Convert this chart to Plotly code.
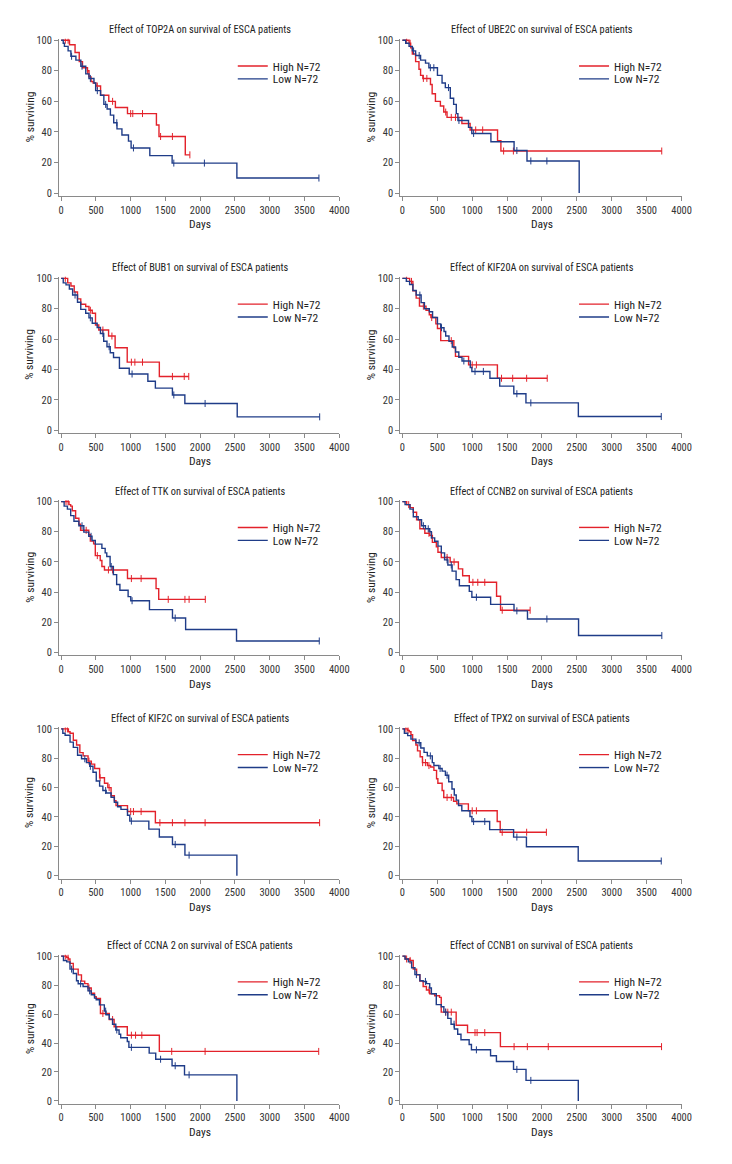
import plotly.graph_objects as go

FONT = "Liberation Sans Narrow, Arial Narrow, Roboto Condensed, DejaVu Sans Condensed, sans-serif"
RED = "#e3222b"
BLUE = "#1f3c88"

genes = ["TOP2A", "UBE2C", "BUB1", "KIF20A", "TTK", "CCNB2", "KIF2C", "TPX2", "CCNA 2", "CCNB1"]
group_labels = ["High N=72", "Low N=72"]
x_ticks = [0, 500, 1000, 1500, 2000, 2500, 3000, 3500, 4000]
y_ticks = [0, 20, 40, 60, 80, 100]

# ---------------- TOP2A ----------------
TOP2A_high_days = [120, 200, 260, 307, 378, 400, 430, 460, 500, 567, 685, 780, 954, 1370, 1407, 1785]
TOP2A_high_surv = [97, 92, 86, 82, 80, 76, 73, 72, 70, 64, 60, 56, 52, 44.5, 37, 25]
TOP2A_high_end = 1851
TOP2A_high_cens = [60, 100, 380, 520, 740, 1000, 1030, 1170, 1430, 1600, 1851]
TOP2A_low_days = [30, 47, 100, 140, 212, 283, 354, 400, 472, 496, 567, 614, 661, 708, 756, 803, 874, 968, 1006, 1275, 1596, 2527]
TOP2A_low_surv = [98, 96, 93, 89.5, 87, 83, 78, 75, 72, 67, 64, 58, 55, 51, 46, 42, 38, 34, 29.5, 24.5, 19.6, 9.8]
TOP2A_low_end = 3707
TOP2A_low_cens = [150, 300, 420, 520, 640, 800, 1040, 1620, 2060, 3707]

# ---------------- UBE2C ----------------
UBE2C_high_days = [95, 118, 142, 189, 237, 260, 293, 402, 426, 473, 544, 592, 639, 852, 970, 1363, 1411]
UBE2C_high_surv = [98, 95, 91, 86, 81, 77, 75, 71, 65, 60, 57, 53, 49.5, 45.5, 41.3, 34.3, 27.5]
UBE2C_high_end = 3716
UBE2C_high_cens = [60, 110, 300, 350, 620, 700, 760, 1050, 1150, 1450, 1590, 3716]
UBE2C_low_days = [47, 95, 142, 189, 260, 331, 379, 502, 568, 615, 686, 734, 772, 795, 947, 994, 1268, 1600, 1785, 2533]
UBE2C_low_surv = [98, 96, 93, 90, 87, 85, 82, 77, 72, 69, 62, 58, 52, 47.5, 43, 39, 33.6, 27.8, 21, 0]
UBE2C_low_end = 2533
UBE2C_low_cens = [160, 240, 400, 450, 660, 810, 1020, 1640, 1840, 2070]

# ---------------- BUB1 ----------------
BUB1_high_days = [94, 141, 188, 235, 282, 353, 400, 447, 494, 541, 682, 776, 950, 1412]
BUB1_high_surv = [97, 95, 91, 86.5, 83, 81.5, 79, 77, 69.3, 66, 62, 54.3, 44.8, 35.4]
BUB1_high_end = 1835
BUB1_high_cens = [60, 420, 600, 730, 1010, 1060, 1170, 1600, 1770, 1835]
BUB1_low_days = [30, 70, 118, 165, 235, 282, 353, 400, 447, 518, 565, 612, 659, 706, 753, 838, 979, 1247, 1355, 1600, 1779, 2532]
BUB1_low_surv = [97, 95.7, 93, 89, 84.3, 79.6, 77, 74, 70.4, 67.6, 63.7, 58.6, 55, 51, 47.9, 40.8, 37, 32.2, 27.7, 23.2, 17.6, 8.8]
BUB1_low_end = 3718
BUB1_low_cens = [200, 420, 600, 690, 1020, 1620, 2070, 3718]

# ---------------- KIF20A ----------------
KIF20A_high_days = [103, 150, 197, 244, 338, 385, 408, 479, 502, 549, 737, 760, 948, 1361]
KIF20A_high_surv = [98, 91.8, 87, 81.7, 79, 76, 74.2, 70, 67, 59, 54.2, 48.6, 43, 34.2]
KIF20A_high_end = 2075
KIF20A_high_cens = [60, 130, 300, 420, 700, 1000, 1060, 1420, 1580, 1780, 2075]
KIF20A_low_days = [56, 103, 150, 197, 268, 315, 385, 432, 502, 549, 596, 620, 667, 714, 761, 808, 854, 972, 995, 1254, 1394, 1596, 1770, 2521]
KIF20A_low_surv = [98, 96, 92, 89, 84, 80, 78, 74.2, 70, 67.5, 65, 62, 58.5, 54.8, 51.5, 48, 45.6, 41.3, 38.7, 34.2, 29, 24, 18, 9]
KIF20A_low_end = 3709
KIF20A_low_cens = [250, 560, 880, 1040, 1160, 1640, 1840, 3709]

# ---------------- TTK ----------------
TTK_high_days = [113, 137, 160, 208, 255, 279, 397, 420, 467, 491, 562, 586, 623, 954, 1365, 1403]
TTK_high_surv = [98, 97, 94, 89, 85, 81, 78, 73.8, 72, 64.2, 61, 57, 54.7, 49, 42.3, 35.2]
TTK_high_end = 2073
TTK_high_cens = [70, 100, 360, 520, 680, 740, 1010, 1150, 1540, 1780, 1840, 2073]
TTK_low_days = [43, 90, 137, 184, 255, 326, 397, 444, 491, 586, 633, 656, 704, 751, 798, 845, 963, 1001, 1270, 1601, 1790, 2522]
TTK_low_surv = [97, 95, 90.7, 87, 84, 79.8, 77, 74.2, 71.8, 69, 66, 63.6, 57, 51.6, 45.1, 41.2, 37, 34.3, 28.4, 22.8, 15.2, 7.6]
TTK_low_end = 3712
TTK_low_cens = [300, 430, 720, 1020, 1640, 3712]

# ---------------- CCNB2 ----------------
CCNB2_high_days = [61, 108, 156, 203, 250, 321, 392, 429, 486, 509, 557, 684, 802, 863, 958, 1349, 1406]
CCNB2_high_surv = [98, 96, 93, 88, 82, 79, 77.6, 73, 70, 66.4, 63, 60, 55.4, 50.9, 46.5, 37.3, 28]
CCNB2_high_end = 1830
CCNB2_high_cens = [90, 380, 420, 640, 740, 1010, 1080, 1180, 1430, 1830]
CCNB2_low_days = [38, 108, 156, 226, 274, 330, 392, 415, 462, 509, 557, 604, 651, 712, 769, 816, 958, 995, 1264, 1599, 1792, 2524]
CCNB2_low_surv = [98, 95, 90, 88, 84, 82, 80, 76, 73.7, 70.5, 66, 61.4, 58, 53.9, 48.3, 44.2, 40.5, 36.6, 31.9, 27.6, 22.2, 11.2]
CCNB2_low_end = 3717
CCNB2_low_cens = [300, 370, 640, 700, 1060, 1640, 2070, 3717]

# ---------------- KIF2C ----------------
KIF2C_high_days = [104, 128, 175, 222, 269, 316, 387, 434, 482, 553, 623, 671, 718, 765, 789, 954, 1355]
KIF2C_high_surv = [98, 97, 92.2, 89, 83.8, 81.6, 78, 76, 73, 66.7, 63, 60, 54.5, 51, 47.7, 43.7, 36.1]
KIF2C_high_end = 3717
KIF2C_high_cens = [60, 90, 400, 560, 690, 1000, 1040, 1150, 1420, 1600, 1780, 2070, 3717]
KIF2C_low_days = [24, 57, 128, 175, 236, 293, 364, 411, 458, 505, 553, 600, 647, 718, 765, 812, 860, 954, 987, 1261, 1412, 1601, 1780, 2527]
KIF2C_low_surv = [97, 95.6, 91, 87.4, 82, 79.6, 77, 74.5, 70.5, 64.5, 61, 58, 56.3, 53.4, 50, 47, 45.2, 41.2, 37.2, 31.7, 26.4, 21.3, 14, 0]
KIF2C_low_end = 2527
KIF2C_low_cens = [340, 420, 640, 1010, 1640, 1840]

# ---------------- TPX2 ----------------
TPX2_high_days = [75, 99, 122, 146, 193, 216, 254, 287, 357, 404, 451, 489, 508, 569, 592, 733, 780, 945, 1358, 1401]
TPX2_high_surv = [99, 98, 96, 92, 89, 85, 81, 77, 75, 74, 71.7, 66, 63, 58, 53.3, 50.7, 48.9, 44.2, 36.9, 29.6]
TPX2_high_end = 2063
TPX2_high_cens = [50, 80, 290, 330, 380, 640, 700, 1000, 1060, 1430, 1780, 2063]
TPX2_low_days = [28, 75, 122, 193, 263, 310, 357, 428, 451, 522, 569, 616, 663, 710, 743, 771, 804, 851, 968, 996, 1250, 1593, 1777, 2519]
TPX2_low_surv = [97, 95.4, 93, 90.5, 87, 84, 81.6, 77, 75, 73, 71.2, 68.4, 64, 59, 55, 51.5, 47.8, 44.2, 40.3, 36.9, 31.4, 26.3, 19.7, 10]
TPX2_low_end = 3709
TPX2_low_cens = [240, 400, 540, 640, 1020, 1180, 1640, 3709]

# ---------------- CCNA 2 ----------------
CCNA2_high_days = [80, 104, 127, 174, 245, 292, 339, 386, 433, 480, 504, 565, 692, 762, 951, 1412]
CCNA2_high_surv = [99, 98, 95, 91, 87, 82.7, 81, 78, 74.4, 72, 70.8, 60.4, 56.2, 51.2, 45.4, 34.2]
CCNA2_high_end = 3704
CCNA2_high_cens = [60, 100, 400, 600, 740, 1010, 1070, 1160, 1590, 2070, 3704]
CCNA2_low_days = [33, 80, 127, 174, 221, 245, 315, 386, 433, 480, 504, 551, 621, 645, 692, 739, 786, 833, 856, 951, 974, 1266, 1360, 1595, 1774, 2527]
CCNA2_low_surv = [97, 96, 91, 88, 83, 80.9, 79, 76, 73.3, 71, 69.9, 66.3, 62, 59.5, 56.5, 53, 49, 46, 43.6, 41, 37, 33, 28.8, 24.3, 18, 0]
CCNA2_low_end = 2527
CCNA2_low_cens = [150, 280, 410, 640, 800, 1010, 1430, 1640, 1840]

# ---------------- CCNB1 ----------------
CCNB1_high_days = [38, 108, 155, 203, 250, 297, 344, 391, 462, 532, 556, 770, 933, 1404]
CCNB1_high_surv = [98, 97, 91, 87, 82.7, 79, 76.6, 74, 72.6, 71.5, 61.3, 52.3, 47.2, 37.5]
CCNB1_high_end = 3713
CCNB1_high_cens = [60, 110, 380, 620, 650, 700, 1040, 1070, 1180, 1600, 1790, 2090, 3713]
CCNB1_low_days = [38, 85, 132, 179, 250, 297, 344, 391, 415, 485, 556, 594, 650, 697, 744, 792, 839, 956, 989, 1263, 1347, 1592, 1771, 2520]
CCNB1_low_surv = [98, 96, 92, 87.2, 83, 82.5, 81, 78, 74, 66.5, 65, 61.3, 57, 53, 49.7, 46, 42.2, 39, 35.3, 31.2, 27.2, 21.8, 14.2, 0]
CCNB1_low_end = 2520
CCNB1_low_cens = [200, 330, 620, 740, 1060, 1640, 1840]

curves = [
    ((TOP2A_high_days, TOP2A_high_surv, TOP2A_high_end, TOP2A_high_cens), (TOP2A_low_days, TOP2A_low_surv, TOP2A_low_end, TOP2A_low_cens)),
    ((UBE2C_high_days, UBE2C_high_surv, UBE2C_high_end, UBE2C_high_cens), (UBE2C_low_days, UBE2C_low_surv, UBE2C_low_end, UBE2C_low_cens)),
    ((BUB1_high_days, BUB1_high_surv, BUB1_high_end, BUB1_high_cens), (BUB1_low_days, BUB1_low_surv, BUB1_low_end, BUB1_low_cens)),
    ((KIF20A_high_days, KIF20A_high_surv, KIF20A_high_end, KIF20A_high_cens), (KIF20A_low_days, KIF20A_low_surv, KIF20A_low_end, KIF20A_low_cens)),
    ((TTK_high_days, TTK_high_surv, TTK_high_end, TTK_high_cens), (TTK_low_days, TTK_low_surv, TTK_low_end, TTK_low_cens)),
    ((CCNB2_high_days, CCNB2_high_surv, CCNB2_high_end, CCNB2_high_cens), (CCNB2_low_days, CCNB2_low_surv, CCNB2_low_end, CCNB2_low_cens)),
    ((KIF2C_high_days, KIF2C_high_surv, KIF2C_high_end, KIF2C_high_cens), (KIF2C_low_days, KIF2C_low_surv, KIF2C_low_end, KIF2C_low_cens)),
    ((TPX2_high_days, TPX2_high_surv, TPX2_high_end, TPX2_high_cens), (TPX2_low_days, TPX2_low_surv, TPX2_low_end, TPX2_low_cens)),
    ((CCNA2_high_days, CCNA2_high_surv, CCNA2_high_end, CCNA2_high_cens), (CCNA2_low_days, CCNA2_low_surv, CCNA2_low_end, CCNA2_low_cens)),
    ((CCNB1_high_days, CCNB1_high_surv, CCNB1_high_end, CCNB1_high_cens), (CCNB1_low_days, CCNB1_low_surv, CCNB1_low_end, CCNB1_low_cens)),
]


def surv_at(days, surv, t):
    s = 100
    for d, v in zip(days, surv):
        if d <= t:
            s = v
    return s


W, H = 732, 1164
# pixel position of day 0 and day 4000 per column
col_px = [(62, 344), (408, 691)]
# pixel position of 100 % and 0 % per row
row_px = [(35.5, 189.5), (275.5, 428.5), (500.5, 652.5), (729.5, 877.5), (958.5, 1104.5)]
X_LO, X_HI = -30, 4000
Y_LO, Y_HI = -2, 101

fig = go.Figure()
layout = dict(
    width=W, height=H, autosize=False,
    margin=dict(l=0, r=0, t=0, b=0),
    paper_bgcolor="white", plot_bgcolor="white",
    font=dict(family=FONT, color="#222"),
    showlegend=True,
)
annotations = []
leg_n = 0

for i, gene in enumerate(genes):
    k = i + 1
    r, c = divmod(i, 2)
    x0p, x4p = col_px[c]
    tp, zp = row_px[r]
    ppd = (x4p - x0p) / 4000.0
    left_px = x0p + X_LO * ppd
    right_px = x0p + X_HI * ppd
    ppu = (zp - tp) / 100.0
    top_px = zp - Y_HI * ppu
    bot_px = zp - Y_LO * ppu
    xd = [left_px / W, right_px / W]
    yd = [1 - bot_px / H, 1 - top_px / H]
    sfx = "" if k == 1 else str(k)
    axis_style = dict(showgrid=False, zeroline=False, showline=True, linecolor="#8a8a8a", linewidth=1,
                      ticks="outside", ticklen=4, tickcolor="#8a8a8a", tickwidth=1,
                      tickfont=dict(family=FONT, size=10.5, color="#333"))
    layout["xaxis" + sfx] = dict(domain=xd, anchor="y" + sfx, range=[X_LO, X_HI], tickvals=x_ticks, **axis_style)
    layout["yaxis" + sfx] = dict(domain=yd, anchor="x" + sfx, range=[Y_LO, Y_HI], tickvals=y_ticks, **axis_style)
    for j, ((days, surv, end, cens), color, label) in enumerate(zip(curves[i], [RED, BLUE], group_labels)):
        leg_n += 1
        lsfx = "" if leg_n == 1 else str(leg_n)
        layout["legend" + lsfx] = dict(
            x=(x0p + 174) / W, y=1 - (tp + 26 + 13 * j) / H, xanchor="left", yanchor="middle",
            bgcolor="rgba(0,0,0,0)", font=dict(family=FONT, size=11.5, color="#222"),
            itemwidth=30,
        )
        fig.add_trace(go.Scatter(
            x=[0] + days + [end], y=[100] + surv + [surv[-1]],
            mode="lines", line=dict(color=color, width=1.4, shape="hv"),
            name=label, legend="legend" + lsfx, xaxis="x" + sfx, yaxis="y" + sfx,
            showlegend=True, hoverinfo="skip",
        ))
        fig.add_trace(go.Scatter(
            x=cens, y=[surv_at(days, surv, t) for t in cens],
            mode="markers", marker=dict(symbol="line-ns", size=5, line=dict(color=color, width=1)),
            xaxis="x" + sfx, yaxis="y" + sfx, showlegend=False, hoverinfo="skip",
        ))
    cx = (x0p + x4p) / 2 / W
    annotations.append(dict(text=f"Effect of {gene} on survival of ESCA patients", x=cx, y=1 - (tp - 10.5) / H,
                            xref="paper", yref="paper", showarrow=False, xanchor="center", yanchor="middle",
                            font=dict(family=FONT, size=10.3, color="#222")))
    annotations.append(dict(text="Days", x=cx, y=1 - (zp + 31.5) / H, xref="paper", yref="paper",
                            showarrow=False, xanchor="center", yanchor="middle",
                            font=dict(family=FONT, size=11.5, color="#222")))
    annotations.append(dict(text="% surviving", x=(x0p - 32) / W, y=1 - ((tp + zp) / 2) / H, xref="paper", yref="paper",
                            showarrow=False, xanchor="center", yanchor="middle", textangle=-90,
                            font=dict(family=FONT, size=11.5, color="#222")))

layout["annotations"] = annotations
fig.update_layout(**layout)
fig.write_html(
    "out.html",
    config={"displayModeBar": False},
    post_script=("document.body.style.margin='0';document.body.style.overflow='hidden';"
                 "var d=document.getElementById('{plot_id}');d.style.position='absolute';"
                 "d.style.left='0px';d.style.top='0px';"),
)
